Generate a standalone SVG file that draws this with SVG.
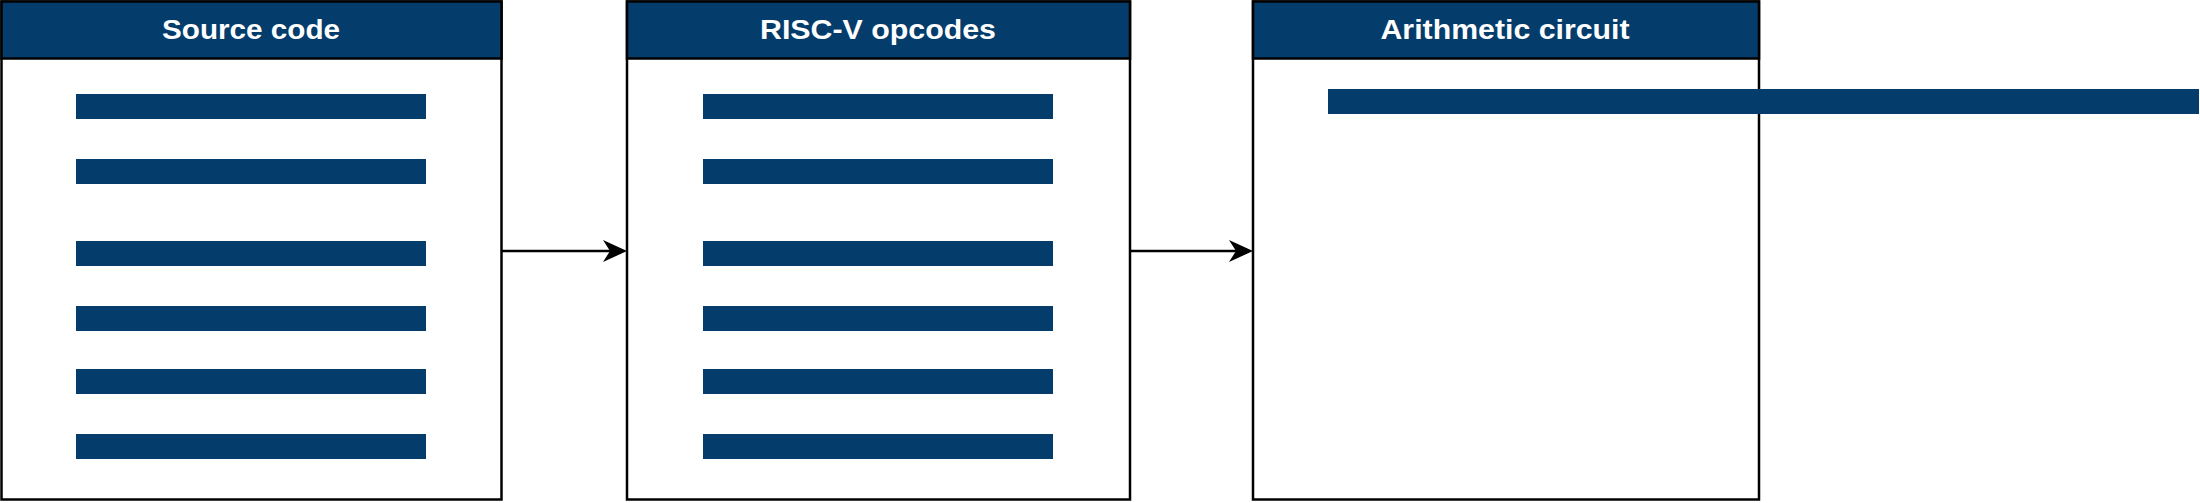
<svg xmlns="http://www.w3.org/2000/svg" width="2200" height="503" viewBox="0 0 2200 503">
<style>
.box{fill:#fff;stroke:#000;stroke-width:2.5}
.hdr{fill:#043c6b;stroke:#000;stroke-width:2.5}
.bar{fill:#043c6b}
.t{font-family:"Liberation Sans",Arial,sans-serif;font-weight:bold;font-size:27px;fill:#fff;text-anchor:middle}
.c{stroke:#000;stroke-width:2.5;fill:none}
</style>
<defs><marker id="a" markerWidth="10" markerHeight="10" refX="9" refY="5" orient="auto" markerUnits="userSpaceOnUse"><path d="M0,0 L0,0 L22,5 L0,11 L5,5 Z" transform="scale(0.45,0.9)"/></marker></defs>
<g id="source">
<rect class="box" x="1.5" y="1.5" width="500" height="498"/>
<rect class="hdr" x="1.5" y="1.5" width="500" height="57"/>
<text class="t" x="251" y="39" textLength="178" lengthAdjust="spacingAndGlyphs">Source code</text>
<rect class="bar" x="76" y="94" width="350" height="25"/>
<rect class="bar" x="76" y="159" width="350" height="25"/>
<rect class="bar" x="76" y="241" width="350" height="25"/>
<rect class="bar" x="76" y="306" width="350" height="25"/>
<rect class="bar" x="76" y="369" width="350" height="25"/>
<rect class="bar" x="76" y="434" width="350" height="25"/>
</g>
<g id="riscv">
<rect class="box" x="627" y="1.5" width="503" height="498"/>
<rect class="hdr" x="627" y="1.5" width="503" height="57"/>
<text class="t" x="878" y="39" textLength="236" lengthAdjust="spacingAndGlyphs">RISC-V opcodes</text>
<rect class="bar" x="703" y="94" width="350" height="25"/>
<rect class="bar" x="703" y="159" width="350" height="25"/>
<rect class="bar" x="703" y="241" width="350" height="25"/>
<rect class="bar" x="703" y="306" width="350" height="25"/>
<rect class="bar" x="703" y="369" width="350" height="25"/>
<rect class="bar" x="703" y="434" width="350" height="25"/>
</g>
<g id="arith">
<rect class="box" x="1253" y="1.5" width="506" height="498"/>
<rect class="hdr" x="1253" y="1.5" width="506" height="57"/>
<text class="t" x="1505" y="39" textLength="249" lengthAdjust="spacingAndGlyphs">Arithmetic circuit</text>
<rect class="bar" x="1328" y="89" width="871" height="25"/>
</g>
<g id="connectors">
<path class="c" d="M501.5,251 H616"/>
<path d="M627,251 L603,240 L610,251 L603,262 Z"/>
<path class="c" d="M1130,251 H1242"/>
<path d="M1253,251 L1229,240 L1236,251 L1229,262 Z"/>
</g>
</svg>
